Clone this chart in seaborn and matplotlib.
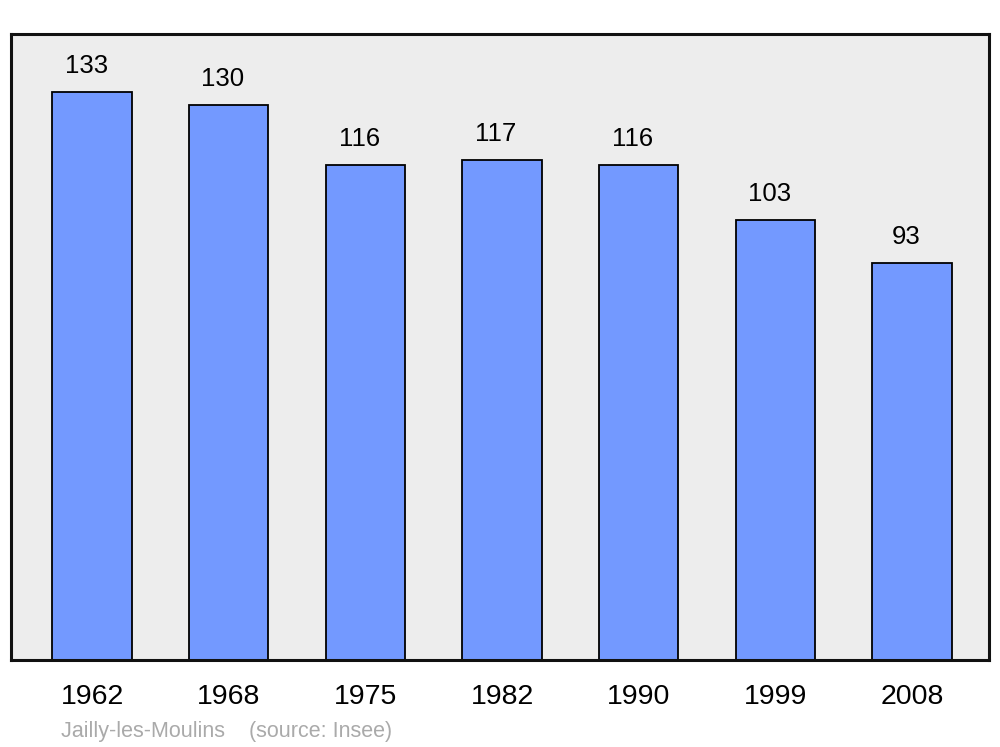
import pandas as pd
import seaborn as sns
import matplotlib.pyplot as plt

# --- data
years = ['1962', '1968', '1975', '1982', '1990', '1999', '2008']
population = [133, 130, 116, 117, 116, 103, 93]
df = pd.DataFrame({'year': years, 'pop': population})

sns.set_style("white")
plt.rcParams['font.family'] = ['Liberation Sans', 'DejaVu Sans']
plt.rcParams['text.color'] = 'black'
plt.rcParams['xtick.color'] = 'black'

f = plt.figure(figsize=(10, 7.47), dpi=100)
ax = f.add_axes([0.011, 87/747, 0.978, 626/747])
ax.set_facecolor('#ededed')

sns.barplot(data=df, x='year', y='pop', color='#7399ff', saturation=1,
            width=0.58, edgecolor='black', linewidth=1.3, ax=ax)

ax.set_xlim(-0.593, 6.563)
ax.set_ylim(0, 146.6)
ax.set_xlabel('')
ax.set_ylabel('')
ax.set_yticks([])
ax.tick_params(axis='x', length=0, pad=17, labelsize=20.5, labelcolor='black')

for sp in ax.spines.values():
    sp.set_linewidth(2.2)
    sp.set_color('#111111')

for rect, v in zip(ax.patches, population):
    ax.annotate(str(v),
                xy=(rect.get_x() + rect.get_width()/2, rect.get_height()),
                xytext=(-4.3, 13.7), textcoords='offset points',
                ha='center', va='baseline', fontsize=18.5, color='black')

f.text(0.061, 1 - 737/747, 'Jailly-les-Moulins    (source: Insee)',
       color='#aaaaaa', fontsize=15.5, ha='left', va='baseline')

plt.savefig('out.png', dpi=100)
